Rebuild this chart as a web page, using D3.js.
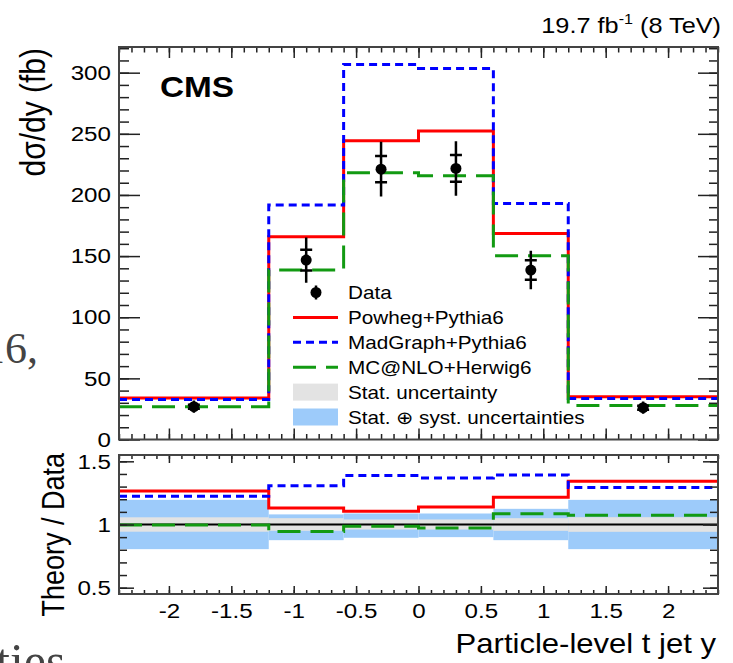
<!DOCTYPE html>
<html>
<head>
<meta charset="utf-8">
<script src="https://cdn.jsdelivr.net/npm/d3@7"></script>
<style>
  body { margin: 0; background: #fff; }
</style>
</head>
<body>
<div id="chart"></div>
<script>
// bins of particle-level t jet y
var binEdges = [-2.4, -1.2, -0.6, 0, 0.6, 1.2, 2.4];
var binCenters = [-1.8, -0.9, -0.3, 0.3, 0.9, 1.8];

// dsigma/dy (fb)
var dataVal  = [26.8, 146.7, 221.1, 221.7, 138.6, 26.0];
var dataStat = [1.6, 8.5, 10.7, 10.9, 7.9, 1.6];
var dataTot  = [5.0, 18.5, 22.4, 22.3, 15.8, 5.0];
var powheg   = [33.9, 165.8, 244.3, 252.4, 168.5, 34.9];
var madgraph = [32.8, 191.7, 306.7, 303.4, 193.0, 33.6];
var mcatnlo  = [26.7, 138.6, 218.1, 215.7, 150.3, 27.9];

// relative uncertainties shown as bands in the ratio panel
var statRel   = [0.057, 0.05, 0.04, 0.04, 0.05, 0.058];
var totUpRel  = [0.195, 0.08, 0.087, 0.087, 0.124, 0.195];
var totDnRel  = [0.195, 0.124, 0.105, 0.10, 0.124, 0.195];

var mainYTicks = [0, 50, 100, 150, 200, 250, 300];
var ratioYTicks = [0.5, 1, 1.5];
var xTicks = [-2, -1.5, -1, -0.5, 0, 0.5, 1, 1.5, 2];

var legendLabels = ["Data", "Powheg+Pythia6", "MadGraph+Pythia6", "MC@NLO+Herwig6",
                    "Stat. uncertainty", "Stat. \u2295 syst. uncertainties"];

var sx = 1.15; // the glyphs in the reference are a bit wider than normal
var font = "'Liberation Sans', Arial, Helvetica, sans-serif";
var serif = "'Liberation Serif', 'DejaVu Serif', serif";

var W = 733, H = 663;
var fr = {left: 119, right: 718, top: 47, bottom: 439.5};
var rf = {top: 455, bottom: 594};

var svg = d3.select("#chart").append("svg")
    .attr("width", W).attr("height", H)
    .style("background", "#fff");

var x = d3.scaleLinear().domain([-2.4, 2.4]).range([fr.left, fr.right]);
var y = d3.scaleLinear().domain([0, 321]).range([fr.bottom, fr.top]);
var yr = d3.scaleLinear().domain([0.45, 1.55]).range([rf.bottom, rf.top]);

function stext(parent, px, py, str, size, anchor, rotate) {
    var t = parent.append("text")
        .attr("transform", "translate(" + px + "," + py + ") scale(" + sx + ",1)" + (rotate ? " rotate(-90)" : ""))
        .attr("font-family", font)
        .attr("font-size", size)
        .attr("text-anchor", anchor || "start")
        .attr("fill", "#000")
        .text(str);
    return t;
}

var defs = svg.append("defs");
defs.append("clipPath").attr("id", "clipMain").append("rect")
    .attr("x", fr.left).attr("y", fr.top).attr("width", fr.right - fr.left).attr("height", fr.bottom - fr.top);
defs.append("clipPath").attr("id", "clipRatio").append("rect")
    .attr("x", fr.left).attr("y", rf.top).attr("width", fr.right - fr.left).attr("height", rf.bottom - rf.top);

function stepPts(vals) {
    var p = vals.map(function (v, i) { return [binEdges[i], v]; });
    p.push([binEdges[binEdges.length - 1], vals[vals.length - 1]]);
    return p;
}

var series = [
    {vals: powheg,   color: "#ff0000", dash: null},
    {vals: madgraph, color: "#0000ff", dash: "8,5"},
    {vals: mcatnlo,  color: "#129a12", dash: "23,10"}
];

// ---- main panel
var gMain = svg.append("g").attr("clip-path", "url(#clipMain)");
var lineMain = d3.line().x(function (d) { return x(d[0]); }).y(function (d) { return y(d[1]); })
    .curve(d3.curveStepAfter);

series.forEach(function (s) {
    gMain.append("path")
        .attr("d", lineMain(stepPts(s.vals)))
        .attr("fill", "none")
        .attr("stroke", s.color)
        .attr("stroke-width", 3)
        .attr("stroke-dasharray", s.dash);
});

var pts = gMain.selectAll(".pt").data(dataVal).enter().append("g").attr("class", "pt");
pts.append("line")
    .attr("x1", function (d, i) { return x(binCenters[i]); })
    .attr("x2", function (d, i) { return x(binCenters[i]); })
    .attr("y1", function (d, i) { return y(d - dataTot[i]); })
    .attr("y2", function (d, i) { return y(d + dataTot[i]); })
    .attr("stroke", "#000").attr("stroke-width", 2.5);
[-1, 1].forEach(function (sgn) {
    pts.append("line")
        .attr("x1", function (d, i) { return x(binCenters[i]) - 6; })
        .attr("x2", function (d, i) { return x(binCenters[i]) + 6; })
        .attr("y1", function (d, i) { return y(d + sgn * dataStat[i]); })
        .attr("y2", function (d, i) { return y(d + sgn * dataStat[i]); })
        .attr("stroke", "#000").attr("stroke-width", 2.5);
});
pts.append("circle")
    .attr("cx", function (d, i) { return x(binCenters[i]); })
    .attr("cy", function (d) { return y(d); })
    .attr("r", 5.5).attr("fill", "#000");

// ---- ratio panel
var gRatio = svg.append("g").attr("clip-path", "url(#clipRatio)");
var bins = d3.range(dataVal.length);
gRatio.selectAll(".tot").data(bins).enter().append("rect")
    .attr("x", function (i) { return x(binEdges[i]); })
    .attr("width", function (i) { return x(binEdges[i + 1]) - x(binEdges[i]); })
    .attr("y", function (i) { return yr(1 + totUpRel[i]); })
    .attr("height", function (i) { return yr(1 - totDnRel[i]) - yr(1 + totUpRel[i]); })
    .attr("fill", "#9dcbfa");
gRatio.selectAll(".stat").data(bins).enter().append("rect")
    .attr("x", function (i) { return x(binEdges[i]); })
    .attr("width", function (i) { return x(binEdges[i + 1]) - x(binEdges[i]); })
    .attr("y", function (i) { return yr(1 + statRel[i]); })
    .attr("height", function (i) { return yr(1 - statRel[i]) - yr(1 + statRel[i]); })
    .attr("fill", "#e3e3e3");
gRatio.append("line")
    .attr("x1", fr.left).attr("x2", fr.right).attr("y1", yr(1)).attr("y2", yr(1))
    .attr("stroke", "#000").attr("stroke-width", 2);

var lineRatio = d3.line().x(function (d) { return x(d[0]); }).y(function (d) { return yr(d[1]); })
    .curve(d3.curveStepAfter);
series.forEach(function (s) {
    var r = s.vals.map(function (v, i) { return v / dataVal[i]; });
    gRatio.append("path")
        .attr("d", lineRatio(stepPts(r)))
        .attr("fill", "none")
        .attr("stroke", s.color)
        .attr("stroke-width", 3)
        .attr("stroke-dasharray", s.dash);
});

// ---- axes (ROOT style: ticks inside the frame on all four sides)
var xMinor = d3.range(-24, 25).map(function (d) { return d / 10; });

function axis(gen, tx, ty, values, len, labels) {
    var a = gen.tickValues(values).tickSize(-len).tickPadding(labels ? labels.pad : 0)
        .tickFormat(labels ? function (d) { return String(d); } : "");
    var g = svg.append("g")
        .attr("transform", "translate(" + tx + "," + ty + ")")
        .call(a);
    g.attr("font-family", font)
        .attr("font-size", 21)
        .attr("color", "#222");
    g.select(".domain").remove();
    g.selectAll("line").attr("stroke-width", 1.5);
    g.selectAll("text").attr("fill", "#000").attr("transform", "scale(" + sx + ",1)");
    return g;
}

// main panel
axis(d3.axisLeft(y), fr.left, 0, mainYTicks, 21, {pad: 7});
axis(d3.axisLeft(y), fr.left, 0, d3.range(0, 321, 10), 10);
axis(d3.axisRight(y), fr.right, 0, mainYTicks, 20);
axis(d3.axisRight(y), fr.right, 0, d3.range(0, 321, 10), 9);
axis(d3.axisBottom(x), 0, fr.bottom, xTicks, 11);
axis(d3.axisBottom(x), 0, fr.bottom, xMinor, 5.5);
axis(d3.axisTop(x), 0, fr.top, xTicks, 11);
axis(d3.axisTop(x), 0, fr.top, xMinor, 5.5);

// ratio panel
var rMinor = d3.range(5, 16).map(function (d) { return d / 10; });
axis(d3.axisLeft(yr), fr.left, 0, ratioYTicks, 15, {pad: 7});
axis(d3.axisLeft(yr), fr.left, 0, rMinor, 8);
axis(d3.axisRight(yr), fr.right, 0, ratioYTicks, 15);
axis(d3.axisRight(yr), fr.right, 0, rMinor, 8);
axis(d3.axisBottom(x), 0, rf.bottom, xTicks, 8, {pad: 9});
axis(d3.axisBottom(x), 0, rf.bottom, xMinor, 4);
axis(d3.axisTop(x), 0, rf.top, xTicks, 8);
axis(d3.axisTop(x), 0, rf.top, xMinor, 4);

// frames
svg.append("rect").attr("x", fr.left).attr("y", fr.top)
    .attr("width", fr.right - fr.left).attr("height", fr.bottom - fr.top)
    .attr("fill", "none").attr("stroke", "#444").attr("stroke-width", 2);
svg.append("rect").attr("x", fr.left).attr("y", rf.top)
    .attr("width", fr.right - fr.left).attr("height", rf.bottom - rf.top)
    .attr("fill", "none").attr("stroke", "#444").attr("stroke-width", 2);

// ---- legend
var lg = svg.append("g");
var lx0 = 293, lx1 = 338, ltx = 348, ly0 = 292.5, ldy = 24.9;
legendLabels.forEach(function (lab, i) {
    var cy = ly0 + i * ldy;
    if (i === 0) {
        lg.append("line").attr("x1", 316).attr("x2", 316).attr("y1", cy - 7).attr("y2", cy + 7)
            .attr("stroke", "#000").attr("stroke-width", 2.5);
        lg.append("circle").attr("cx", 316).attr("cy", cy).attr("r", 5.5).attr("fill", "#000");
    } else if (i <= 3) {
        var s = series[i - 1];
        lg.append("line").attr("x1", lx0).attr("x2", lx1).attr("y1", cy).attr("y2", cy)
            .attr("stroke", s.color).attr("stroke-width", 3).attr("stroke-dasharray", s.dash);
    } else {
        lg.append("rect").attr("x", lx0).attr("y", cy - 8.5).attr("width", lx1 - lx0).attr("height", 17)
            .attr("fill", i === 4 ? "#e3e3e3" : "#9dcbfa");
    }
    stext(lg, ltx, cy + 6.5, lab, 18);
});

// ---- titles
stext(svg, 160, 97, "CMS", 29).attr("font-weight", "bold");
var lumi = stext(svg, 721, 33, "19.7 fb", 22, "end");
lumi.append("tspan").attr("font-size", 14).attr("dy", -9).text("-1");
lumi.append("tspan").attr("dy", 9).text(" (8 TeV)");

stext(svg, 45, 48, "d\u03c3/dy (fb)", 30, "end", true);
stext(svg, 64, 453, "Theory / Data", 27, "end", true);
stext(svg, 716, 653, "Particle-level t jet y", 27, "end");

// ---- bits of the surrounding page text visible at the edges of the crop
svg.append("text").attr("x", 38).attr("y", 363).attr("text-anchor", "end")
    .attr("font-family", serif).attr("font-size", 44).attr("fill", "#444").text("16,");
svg.append("text").attr("x", -4).attr("y", 678)
    .attr("font-family", serif).attr("font-size", 50).attr("fill", "#444").text("ties");
svg.append("text").attr("x", 88).attr("y", -6)
    .attr("font-family", serif).attr("font-size", 44).attr("fill", "#444").text("]");
</script>
</body>
</html>
